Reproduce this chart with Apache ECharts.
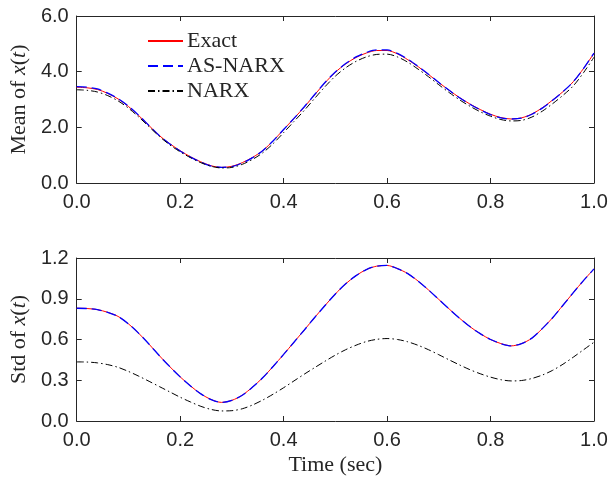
<!DOCTYPE html>
<html>
<head>
<meta charset="utf-8">
<script src="https://cdn.jsdelivr.net/npm/echarts@6/dist/echarts.min.js"></script>
<style>
  html, body { margin: 0; padding: 0; background: #fff; }
  #main { width: 612px; height: 481px; }
</style>
</head>
<body>
<div id="main"></div>
<script>
// time samples (sec), every 0.02
var times = [0, 0.02, 0.04, 0.06, 0.08, 0.1, 0.12, 0.14, 0.16, 0.18,
    0.2, 0.22, 0.24, 0.26, 0.28, 0.3, 0.32, 0.34, 0.36, 0.38,
    0.4, 0.42, 0.44, 0.46, 0.48, 0.5, 0.52, 0.54, 0.56, 0.58,
    0.6, 0.62, 0.64, 0.66, 0.68, 0.7, 0.72, 0.74, 0.76, 0.78,
    0.8, 0.82, 0.84, 0.86, 0.88, 0.9, 0.92, 0.94, 0.96, 0.98, 1.0];

// mean of x(t)
var meanExact = [3.44, 3.42, 3.36, 3.22, 3.02, 2.75, 2.42, 2.06, 1.70, 1.41,
    1.16, 0.94, 0.76, 0.62, 0.56, 0.60, 0.73, 0.92, 1.17, 1.52,
    1.92, 2.32, 2.73, 3.17, 3.60, 3.98, 4.28, 4.51, 4.67, 4.76,
    4.76, 4.64, 4.43, 4.18, 3.90, 3.61, 3.33, 3.07, 2.84, 2.64,
    2.47, 2.35, 2.30, 2.34, 2.48, 2.70, 2.98, 3.28, 3.64, 4.12, 4.66];
var meanAs = [3.46, 3.44, 3.38, 3.23, 3.03, 2.76, 2.43, 2.06, 1.70, 1.40,
    1.15, 0.93, 0.75, 0.61, 0.56, 0.59, 0.72, 0.91, 1.17, 1.52,
    1.92, 2.32, 2.74, 3.18, 3.61, 3.99, 4.29, 4.53, 4.69, 4.78,
    4.78, 4.66, 4.45, 4.19, 3.91, 3.61, 3.33, 3.06, 2.83, 2.63,
    2.46, 2.34, 2.30, 2.33, 2.47, 2.69, 2.97, 3.28, 3.64, 4.12, 4.67];
var meanNarx = [3.35, 3.33, 3.27, 3.14, 2.95, 2.69, 2.37, 2.02, 1.67, 1.37,
    1.12, 0.91, 0.73, 0.60, 0.54, 0.56, 0.67, 0.85, 1.09, 1.42,
    1.81, 2.21, 2.61, 3.04, 3.46, 3.84, 4.14, 4.37, 4.53, 4.62,
    4.63, 4.53, 4.34, 4.09, 3.82, 3.53, 3.25, 2.99, 2.76, 2.56,
    2.40, 2.28, 2.23, 2.25, 2.37, 2.58, 2.85, 3.15, 3.49, 3.97, 4.52];

// std of x(t)
var stdExact = [0.830, 0.828, 0.820, 0.800, 0.770, 0.715, 0.645, 0.565, 0.480, 0.400,
    0.325, 0.258, 0.200, 0.158, 0.137, 0.152, 0.190, 0.250, 0.320, 0.403,
    0.490, 0.580, 0.670, 0.762, 0.850, 0.935, 1.010, 1.070, 1.115, 1.140,
    1.145, 1.122, 1.085, 1.030, 0.965, 0.895, 0.825, 0.757, 0.695, 0.643,
    0.600, 0.570, 0.553, 0.570, 0.610, 0.680, 0.760, 0.852, 0.945, 1.035, 1.120];
var stdAs = [0.830, 0.828, 0.820, 0.800, 0.770, 0.715, 0.645, 0.565, 0.480, 0.400,
    0.325, 0.258, 0.200, 0.158, 0.137, 0.152, 0.190, 0.250, 0.320, 0.403,
    0.490, 0.580, 0.670, 0.762, 0.850, 0.935, 1.010, 1.070, 1.115, 1.140,
    1.145, 1.122, 1.085, 1.030, 0.965, 0.895, 0.825, 0.757, 0.695, 0.643,
    0.600, 0.570, 0.553, 0.570, 0.610, 0.680, 0.760, 0.852, 0.945, 1.035, 1.120];
var stdNarx = [0.435, 0.434, 0.428, 0.415, 0.395, 0.365, 0.330, 0.292, 0.253, 0.214,
    0.175, 0.140, 0.108, 0.085, 0.074, 0.076, 0.090, 0.118, 0.155, 0.198,
    0.245, 0.295, 0.345, 0.393, 0.440, 0.485, 0.525, 0.558, 0.585, 0.601,
    0.607, 0.600, 0.583, 0.557, 0.525, 0.488, 0.450, 0.413, 0.378, 0.348,
    0.323, 0.304, 0.295, 0.298, 0.313, 0.338, 0.373, 0.418, 0.470, 0.525, 0.580];

var seriesNames = ['Exact', 'AS-NARX', 'NARX'];

function pairs(vals) {
    let out = [];
    for (let i = 0; i < times.length; ++i) {
        out.push([times[i], vals[i]]);
    }
    return out;
}

var axisColor = '#262626';
var serif = '"Liberation Serif", "DejaVu Serif", serif';
var sans = '"Liberation Sans", Arial, sans-serif';

function xAxisOf(grid, pos, showLabel) {
    return {
        type: 'value', gridIndex: grid, position: pos,
        min: 0, max: 1, interval: 0.2,
        axisLine: { show: true, onZero: false, lineStyle: { color: axisColor, width: 1 } },
        axisTick: { show: true, inside: true, length: 5, lineStyle: { color: axisColor } },
        axisLabel: {
            show: showLabel, margin: 9, fontSize: 20, color: axisColor, fontFamily: sans,
            formatter: function (v) { return v.toFixed(1); }
        },
        splitLine: { show: false }
    };
}

function yAxisOf(grid, pos, max, step, showLabel, name) {
    return {
        type: 'value', gridIndex: grid, position: pos,
        min: 0, max: max, interval: step,
        name: showLabel ? name : '',
        nameLocation: 'middle', nameGap: 33, nameRotate: 90,
        nameTextStyle: {
            fontFamily: serif, fontSize: 22, color: axisColor,
            rich: {
                n: { fontFamily: serif, fontSize: 22, color: axisColor },
                i: { fontFamily: serif, fontSize: 22, color: axisColor, fontStyle: 'italic' }
            }
        },
        axisLine: { show: true, onZero: false, lineStyle: { color: axisColor, width: 1 } },
        axisTick: { show: true, inside: true, length: 5, lineStyle: { color: axisColor } },
        axisLabel: {
            show: showLabel, margin: 8, fontSize: 20, color: axisColor, fontFamily: sans,
            formatter: function (v) { return v.toFixed(1); }
        },
        splitLine: { show: false }
    };
}

function lineSeries(name, xi, yi, vals, color, type, width) {
    return {
        name: name, type: 'line', xAxisIndex: xi, yAxisIndex: yi,
        data: pairs(vals), smooth: 0.3, symbol: 'none', silent: true,
        lineStyle: { color: color, width: width, type: type },
        itemStyle: { color: color }
    };
}

var dashDot = [7, 3, 1.5, 3];
var dashed = [10, 5];

var myChart = echarts.init(document.getElementById('main'));
var option = {
    animation: false,
    backgroundColor: '#fff',
    grid: [
        { left: 76, right: 18, top: 16, height: 167 },
        { left: 76, right: 18, top: 258, height: 163 }
    ],
    legend: {
        data: seriesNames,
        orient: 'vertical',
        left: 147, top: 30, padding: 0,
        itemWidth: 35, itemHeight: 10, itemGap: 3,
        itemStyle: { opacity: 0 },
        textStyle: { fontFamily: serif, fontSize: 22, lineHeight: 22, color: axisColor, padding: [0, 0, 0, -1] }
    },
    xAxis: [
        xAxisOf(0, 'bottom', true),
        xAxisOf(0, 'top', false),
        Object.assign(xAxisOf(1, 'bottom', true), {
            name: 'Time (sec)', nameLocation: 'middle', nameGap: 33,
            nameTextStyle: { fontFamily: serif, fontSize: 22, color: axisColor }
        }),
        xAxisOf(1, 'top', false)
    ],
    yAxis: [
        yAxisOf(0, 'left', 6, 2, true, '{n|Mean of }{i|x}{n|(}{i|t}{n|)}'),
        yAxisOf(0, 'right', 6, 2, false, ''),
        yAxisOf(1, 'left', 1.2, 0.3, true, '{n|Std of }{i|x}{n|(}{i|t}{n|)}'),
        yAxisOf(1, 'right', 1.2, 0.3, false, '')
    ],
    series: [
        lineSeries('Exact', 0, 0, meanExact, '#ff0000', 'solid', 1),
        lineSeries('AS-NARX', 0, 0, meanAs, '#0000ff', dashed, 1.3),
        lineSeries('NARX', 0, 0, meanNarx, '#000000', dashDot, 1),
        lineSeries('Exact', 2, 2, stdExact, '#ff0000', 'solid', 1),
        lineSeries('AS-NARX', 2, 2, stdAs, '#0000ff', dashed, 1.3),
        lineSeries('NARX', 2, 2, stdNarx, '#000000', dashDot, 1)
    ]
};
myChart.setOption(option);
</script>
</body>
</html>
